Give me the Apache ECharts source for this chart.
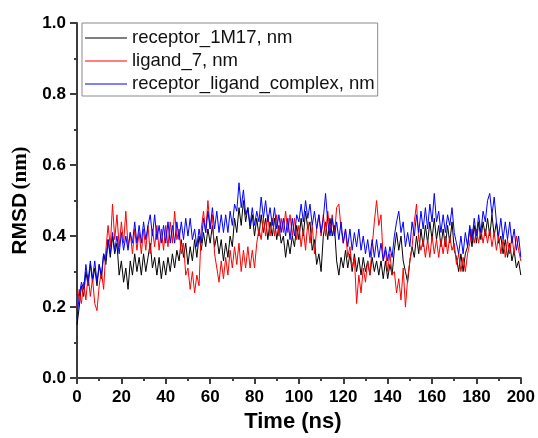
<!DOCTYPE html>
<html>
<head>
<meta charset="utf-8">
<script src="https://cdn.jsdelivr.net/npm/echarts@6/dist/echarts.min.js"></script>
<style>html,body{margin:0;padding:0;background:#fff}#c{width:538px;height:438px}</style>
</head>
<body>
<div id="c"></div>
<script>
// Simulation time grid (ns), one sample per ns
const timeStart = 0, timeStep = 1, timeCount = 201;
const seriesNames = ['receptor_1M17, nm', 'ligand_7, nm', 'receptor_ligand_complex, nm'];
const xTicks = [0, 20, 40, 60, 80, 100, 120, 140, 160, 180, 200];
const yTicks = [0.0, 0.2, 0.4, 0.6, 0.8, 1.0];

const receptor = [
0.15,0.20,0.26,0.23,0.30,0.26,0.32,0.27,0.31,0.26,
0.32,0.28,0.35,0.32,0.39,0.34,0.40,0.35,0.38,0.29,
0.33,0.27,0.31,0.25,0.33,0.29,0.35,0.30,0.34,0.29,
0.35,0.30,0.34,0.38,0.31,0.34,0.29,0.34,0.28,0.33,
0.29,0.34,0.30,0.35,0.31,0.36,0.33,0.39,0.34,0.38,
0.32,0.37,0.33,0.39,0.34,0.40,0.36,0.41,0.37,0.42,
0.38,0.43,0.37,0.40,0.35,0.39,0.33,0.38,0.34,0.40,
0.37,0.45,0.41,0.48,0.43,0.50,0.44,0.48,0.42,0.46,
0.40,0.45,0.40,0.46,0.41,0.45,0.39,0.44,0.40,0.45,
0.39,0.43,0.38,0.40,0.34,0.39,0.35,0.40,0.37,0.43,
0.39,0.45,0.40,0.47,0.42,0.44,0.36,0.39,0.32,0.35,
0.30,0.40,0.44,0.39,0.45,0.40,0.43,0.33,0.29,0.34,
0.31,0.36,0.31,0.35,0.30,0.35,0.30,0.34,0.29,0.34,
0.30,0.33,0.29,0.34,0.30,0.33,0.29,0.33,0.28,0.33,
0.28,0.32,0.29,0.36,0.41,0.36,0.40,0.33,0.30,0.27,
0.33,0.37,0.34,0.40,0.35,0.42,0.37,0.43,0.38,0.44,
0.39,0.45,0.39,0.43,0.37,0.42,0.37,0.43,0.38,0.44,
0.36,0.34,0.30,0.35,0.30,0.35,0.37,0.42,0.37,0.43,
0.38,0.44,0.39,0.44,0.40,0.45,0.40,0.46,0.40,0.44,
0.38,0.40,0.35,0.39,0.34,0.38,0.33,0.36,0.31,0.33,
0.29
];

const ligand = [
0.20,0.25,0.21,0.27,0.22,0.29,0.23,0.28,0.21,0.19,
0.26,0.30,0.25,0.36,0.43,0.37,0.49,0.39,0.46,0.37,
0.44,0.38,0.47,0.37,0.41,0.35,0.42,0.36,0.41,0.35,
0.42,0.36,0.43,0.35,0.42,0.37,0.43,0.36,0.42,0.36,
0.43,0.37,0.44,0.38,0.47,0.39,0.42,0.35,0.38,0.29,
0.31,0.25,0.30,0.24,0.29,0.26,0.42,0.47,0.41,0.50,
0.42,0.46,0.35,0.31,0.27,0.33,0.28,0.34,0.29,0.36,
0.31,0.37,0.32,0.38,0.30,0.36,0.31,0.37,0.31,0.36,
0.31,0.38,0.42,0.39,0.45,0.40,0.46,0.40,0.45,0.40,
0.46,0.40,0.45,0.41,0.47,0.41,0.46,0.40,0.45,0.39,
0.43,0.37,0.42,0.36,0.44,0.38,0.43,0.35,0.42,0.46,
0.40,0.46,0.40,0.47,0.41,0.46,0.40,0.48,0.49,0.42,
0.38,0.42,0.34,0.37,0.31,0.34,0.21,0.29,0.24,0.31,
0.27,0.33,0.29,0.37,0.44,0.50,0.43,0.46,0.33,0.36,
0.30,0.35,0.29,0.30,0.24,0.28,0.22,0.31,0.20,0.28,
0.33,0.37,0.44,0.49,0.39,0.36,0.39,0.34,0.39,0.34,
0.40,0.35,0.39,0.34,0.39,0.35,0.40,0.35,0.40,0.36,
0.38,0.32,0.35,0.30,0.34,0.30,0.35,0.38,0.42,0.38,
0.42,0.38,0.42,0.38,0.42,0.38,0.42,0.37,0.41,0.36,
0.40,0.35,0.39,0.34,0.39,0.35,0.40,0.35,0.40,0.36,
0.33
];

const complex = [
0.17,0.23,0.27,0.25,0.32,0.27,0.33,0.28,0.33,0.27,
0.32,0.29,0.35,0.33,0.39,0.35,0.41,0.36,0.40,0.35,
0.41,0.36,0.40,0.36,0.41,0.38,0.44,0.38,0.43,0.38,
0.44,0.39,0.43,0.46,0.40,0.46,0.39,0.43,0.38,0.43,
0.38,0.44,0.38,0.43,0.38,0.44,0.39,0.44,0.39,0.45,
0.40,0.45,0.39,0.42,0.37,0.42,0.38,0.45,0.41,0.47,
0.42,0.48,0.42,0.47,0.41,0.46,0.41,0.46,0.41,0.47,
0.43,0.49,0.47,0.55,0.48,0.53,0.46,0.48,0.43,0.48,
0.43,0.47,0.44,0.51,0.45,0.50,0.44,0.48,0.43,0.48,
0.42,0.46,0.41,0.45,0.40,0.45,0.39,0.45,0.40,0.46,
0.44,0.49,0.44,0.50,0.45,0.49,0.43,0.47,0.42,0.46,
0.41,0.45,0.52,0.44,0.40,0.45,0.40,0.44,0.39,0.44,
0.38,0.42,0.37,0.42,0.36,0.41,0.37,0.42,0.36,0.40,
0.35,0.39,0.34,0.39,0.34,0.39,0.34,0.38,0.33,0.37,
0.33,0.37,0.34,0.40,0.44,0.47,0.41,0.44,0.37,0.41,
0.37,0.44,0.40,0.46,0.41,0.47,0.42,0.48,0.42,0.49,
0.44,0.52,0.44,0.47,0.41,0.46,0.41,0.46,0.43,0.48,
0.41,0.38,0.35,0.40,0.35,0.41,0.37,0.43,0.39,0.45,
0.40,0.46,0.41,0.47,0.44,0.50,0.52,0.46,0.51,0.44,
0.40,0.45,0.39,0.44,0.39,0.44,0.38,0.42,0.36,0.40,
0.34
];

const time = [];
for (let i = 0; i < timeCount; i++) time.push(timeStart + i * timeStep);
const pair = arr => arr.map((v, i) => [time[i], v]);

const colors = ['#000000', '#ff0000', '#0000ff'];
const axisColor = '#3c3c3c';
const chart = echarts.init(document.getElementById('c'), null, {renderer: 'canvas'});
chart.setOption({
  animation: false,
  backgroundColor: '#ffffff',
  color: colors,
  grid: {left: 77, right: 16, top: 23, bottom: 55, containLabel: false},
  legend: {
    orient: 'vertical',
    left: 82, top: 23,
    padding: [5, 3, 2, 3],
    itemGap: 3,
    icon: 'rect',
    itemWidth: 42, itemHeight: 1,
    backgroundColor: '#ffffff',
    borderColor: '#8a8a8a', borderWidth: 1, borderRadius: 0,
    textStyle: {fontFamily: 'Liberation Sans, Arial, sans-serif', fontSize: 18.5, color: '#111', lineHeight: 20},
    data: seriesNames
  },
  xAxis: {
    type: 'value', min: xTicks[0], max: xTicks[xTicks.length - 1], interval: 20,
    name: 'Time (ns)', nameLocation: 'middle', nameGap: 30,
    nameTextStyle: {fontFamily: 'Liberation Sans, Arial, sans-serif', fontWeight: 'bold', fontSize: 22, color: '#000', padding: [0, 12, 0, 0]},
    axisLine: {show: true, onZero: false, lineStyle: {color: axisColor, width: 2}},
    axisTick: {show: true, inside: false, length: 6, lineStyle: {color: axisColor, width: 2}},
    minorTick: {show: true, splitNumber: 2, length: 3, lineStyle: {color: axisColor, width: 2}},
    splitLine: {show: false},
    axisLabel: {fontFamily: 'Liberation Sans, Arial, sans-serif', fontWeight: 'bold', fontSize: 17, color: '#000', margin: 11}
  },
  yAxis: {
    type: 'value', min: yTicks[0], max: yTicks[yTicks.length - 1], interval: 0.2,
    name: '{a|RMSD} {b|(nm)}', nameLocation: 'middle', nameGap: 46, nameRotate: 90,
    nameTextStyle: {
      color: '#000',
      rich: {
        a: {fontFamily: 'Liberation Sans, Arial, sans-serif', fontWeight: 'bold', fontSize: 21, color: '#000'},
        b: {fontFamily: 'Liberation Serif, Times New Roman, serif', fontWeight: 'bold', fontSize: 21, color: '#000'}
      }
    },
    axisLine: {show: true, onZero: false, lineStyle: {color: axisColor, width: 2}},
    axisTick: {show: true, inside: false, length: 7, lineStyle: {color: axisColor, width: 2}},
    minorTick: {show: true, splitNumber: 2, length: 3, lineStyle: {color: axisColor, width: 2}},
    splitLine: {show: false},
    axisLabel: {fontFamily: 'Liberation Sans, Arial, sans-serif', fontWeight: 'bold', fontSize: 17, color: '#000', margin: 11,
      formatter: v => v.toFixed(1)}
  },
  series: [receptor, ligand, complex].map((d, i) => ({
    name: seriesNames[i], type: 'line', data: pair(d),
    showSymbol: false, symbol: 'none',
    lineStyle: {color: colors[i], width: 1},
    itemStyle: {color: colors[i]},
    z: 2 + i
  }))
});
</script>
</body>
</html>
